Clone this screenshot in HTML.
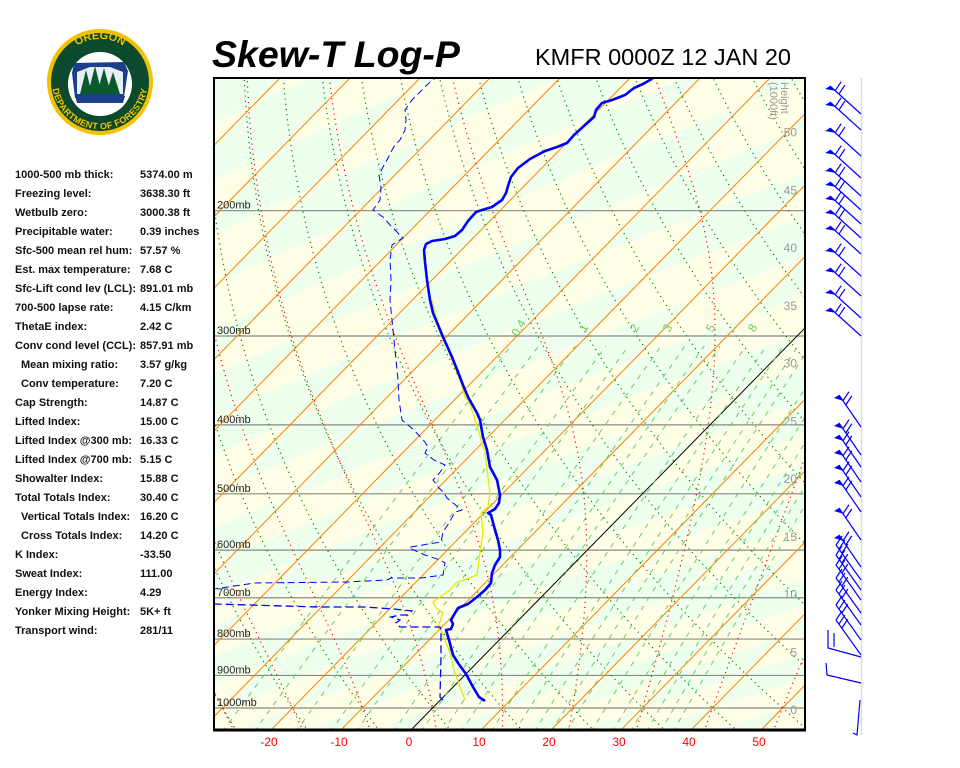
<!DOCTYPE html>
<html><head><meta charset="utf-8">
<style>
body{margin:0;background:#fff;width:960px;height:768px;overflow:hidden;position:relative;font-family:"Liberation Sans",sans-serif}
#cv{position:absolute;left:214px;top:78px}
#sv{position:absolute;left:0;top:0}
.st{position:absolute;left:15px;font-size:11px;font-weight:bold;color:#111;white-space:nowrap}
.st span{position:absolute;left:125px}
.in{left:21px}.in span{left:119px}
</style></head><body>
<canvas id="cv" width="591" height="652"></canvas>
<svg id="sv" width="960" height="768" xmlns="http://www.w3.org/2000/svg">
<defs><clipPath id="cp"><rect x="214" y="78" width="591" height="652"/></clipPath>
<path id="arcT" d="M57,82 A43,43 0 0,1 143,82"/>
<path id="arcB" d="M58,58 A48,48 0 1,0 142,58"/></defs>
<g id="plot" clip-path="url(#cp)"></g>
<g id="over"></g>
<!-- logo -->
<circle cx="100" cy="82" r="53" fill="#f2c200"/>
<circle cx="100" cy="82" r="49" fill="#0b4a2c"/>
<circle cx="100" cy="84" r="32" fill="#fff"/>
<path d="M74,63 L124,62 L128,71 L124,97 L75,98 L72,73 Z" fill="#1c3f8c"/>
<path d="M77,72 L90,67 L110,67 L123,72 L123,94 L77,94Z" fill="#e8eef8"/>
<g fill="#0b5a2a"><path d="M80,94 L86,70 L92,94Z"/><path d="M88,94 L95,66 L102,94Z"/><path d="M97,94 L104,68 L111,94Z"/><path d="M106,94 L113,72 L120,94Z"/></g>
<path d="M75,96 Q100,91 125,96 L123,103 L77,103Z" fill="#1c3f8c"/>
<text font-size="11" font-weight="bold" fill="#f2c200" font-family="Liberation Sans,sans-serif"><textPath href="#arcT" startOffset="50%" text-anchor="middle">OREGON</textPath></text>
<text font-size="9" font-weight="bold" fill="#f2c200" font-family="Liberation Sans,sans-serif" letter-spacing="0.3"><textPath href="#arcB" startOffset="50%" text-anchor="middle">DEPARTMENT OF FORESTRY</textPath></text>
<text x="212" y="67" font-size="37.5" font-weight="bold" font-style="italic" fill="#000">Skew-T Log-P</text>
<text x="535" y="65" font-size="23.5" fill="#000">KMFR 0000Z 12 JAN 20</text>
</svg>
<div class="st" style="top:169px">1000-500 mb thick:<span>5374.00 m</span></div>
<div class="st" style="top:188px">Freezing level:<span>3638.30 ft</span></div>
<div class="st" style="top:207px">Wetbulb zero:<span>3000.38 ft</span></div>
<div class="st" style="top:226px">Precipitable water:<span>0.39 inches</span></div>
<div class="st" style="top:245px">Sfc-500 mean rel hum:<span>57.57 %</span></div>
<div class="st" style="top:264px">Est. max temperature:<span>7.68 C</span></div>
<div class="st" style="top:283px">Sfc-Lift cond lev (LCL):<span>891.01 mb</span></div>
<div class="st" style="top:302px">700-500 lapse rate:<span>4.15 C/km</span></div>
<div class="st" style="top:321px">ThetaE index:<span>2.42 C</span></div>
<div class="st" style="top:340px">Conv cond level (CCL):<span>857.91 mb</span></div>
<div class="st in" style="top:359px">Mean mixing ratio:<span>3.57 g/kg</span></div>
<div class="st in" style="top:378px">Conv temperature:<span>7.20 C</span></div>
<div class="st" style="top:397px">Cap Strength:<span>14.87 C</span></div>
<div class="st" style="top:416px">Lifted Index:<span>15.00 C</span></div>
<div class="st" style="top:435px">Lifted Index @300 mb:<span>16.33 C</span></div>
<div class="st" style="top:454px">Lifted Index @700 mb:<span>5.15 C</span></div>
<div class="st" style="top:473px">Showalter Index:<span>15.88 C</span></div>
<div class="st" style="top:492px">Total Totals Index:<span>30.40 C</span></div>
<div class="st in" style="top:511px">Vertical Totals Index:<span>16.20 C</span></div>
<div class="st in" style="top:530px">Cross Totals Index:<span>14.20 C</span></div>
<div class="st" style="top:549px">K Index:<span>-33.50</span></div>
<div class="st" style="top:568px">Sweat Index:<span>111.00</span></div>
<div class="st" style="top:587px">Energy Index:<span>4.29</span></div>
<div class="st" style="top:606px">Yonker Mixing Height:<span>5K+ ft</span></div>
<div class="st" style="top:625px">Transport wind:<span>281/11</span></div>
<script>
var X0=411,K=7,SK=0.98,Y1000=708,LK=309;
function yP(p){return Y1000-LK*Math.log(1000/p);}
function pY(y){return 1000*Math.exp((Y1000-y)/LK);}
function xT(T,y){return X0+K*T+(730-y)*SK;}
var c=document.getElementById('cv').getContext('2d');
var im=c.createImageData(591,652);
for(var j=0;j<652;j++){var y=78+j,p=pY(y),f=Math.pow(1000/p,0.286);
 for(var i=0;i<591;i++){var x=214+i;var T=(x-X0-(730-y)*SK)/K;var th=(T+273.15)*f-273.15;
  var par=(Math.floor(T/10)+Math.floor(th/10))&1;var k=(j*591+i)*4;
  if(par){im.data[k]=238;im.data[k+1]=255;im.data[k+2]=238;}else{im.data[k]=255;im.data[k+1]=255;im.data[k+2]=232;}
  im.data[k+3]=255;}}
c.putImageData(im,0,0);
var NS='http://www.w3.org/2000/svg';
function el(g,t,a,txt){var e=document.createElementNS(NS,t);for(var k in a)e.setAttribute(k,a[k]);if(txt!=null)e.textContent=txt;document.getElementById(g).appendChild(e);return e;}
function pl(g,pts,st){el(g,'polyline',Object.assign({points:pts.map(function(q){return q[0].toFixed(1)+','+q[1].toFixed(1)}).join(' '),fill:'none'},st));}
[1000,900,800,700,600,500,400,300,200].forEach(function(p){var y=yP(p);el('plot','line',{x1:214,x2:805,y1:y,y2:y,stroke:'#888','stroke-width':1.2});});
for(var th=-40;th<=200;th+=10){var pts=[];for(var p=1080;p>=125;p-=10){var T=(th+273.15)*Math.pow(p/1000,0.286)-273.15;var y=yP(p);pts.push([xT(T,y),y]);}pl('plot',pts,{stroke:'#008000','stroke-width':1.2,'stroke-dasharray':'1.2 4'});}
for(var T=-120;T<=60;T+=10){var y1=730,y2=78;el('plot','line',{x1:xT(T,y1),y1:y1,x2:xT(T,y2),y2:y2,stroke:T==0?'#000':'#ff8000','stroke-width':1});}
function es(Tc){return 6.112*Math.exp(17.67*Tc/(Tc+243.5));}
[0.4,0.6,1,1.5,2,3,4,5,6,8,10,12,14,16,20,24,28,32,36,40].forEach(function(w){var pts=[];for(var p=1080;p>=310;p-=10){var e=w*p/(622+w);var L=Math.log(e/6.112);var T=243.5*L/(17.67-L);var y=yP(p);pts.push([xT(T,y),y]);}pl('plot',pts,{stroke:'#66cc66','stroke-width':1,'stroke-dasharray':'5 6'});});
[['0.4',522],['1',587],['2',638],['3',671],['5',714],['8',756]].forEach(function(a){el('plot','text',{x:a[1],y:330,'font-size':12,fill:'#66cc66',transform:'rotate(-60 '+a[1]+' 330)','text-anchor':'middle'},a[0]);});
function dTdp(T,p){var Tc=T-273.15;var e=es(Tc);var rs=0.622*e/(p-e);var Rd=287,Lv=2.5e6,cp=1005;return (1/p)*(Rd*T+Lv*rs)/(cp+Lv*Lv*rs*0.622/(Rd*T*T));}
for(var T0=-40;T0<=50;T0+=10){var up=[],T=T0+273.15;for(var p=1000;p>=125;p-=2){var y=yP(p);up.push([xT(T-273.15,y),y]);T-=dTdp(T,p)*2;}
 var dn=[];T=T0+273.15;for(var p=1000;p<=1080;p+=2){var y=yP(p);dn.unshift([xT(T-273.15,y),y]);T+=dTdp(T,p)*2;}
 pl('plot',dn.concat(up),{stroke:'#ff0000','stroke-width':1.2,'stroke-dasharray':'1.2 4'});}
[[1000,'1000mb'],[900,'900mb'],[800,'800mb'],[700,'700mb'],[600,'600mb'],[500,'500mb'],[400,'400mb'],[300,'300mb'],[200,'200mb']].forEach(function(a){el('over','text',{x:217,y:yP(a[0])-2,'font-size':11,fill:'#222'},a[1]);});
for(var h=0;h<=50;h+=5){el('over','text',{x:797,y:714-h*11.55,'font-size':12,fill:'#999','text-anchor':'end'},h);}
el('over','text',{x:781,y:82,'font-size':11,fill:'#999',transform:'rotate(90 781 82)'},'Height');
el('over','text',{x:770,y:82,'font-size':11,fill:'#999',transform:'rotate(90 770 82)'},'(1000ft)');
for(var T=-20;T<=50;T+=10){el('over','text',{x:X0+K*T-2,y:746,'font-size':12,fill:'#ff0000','text-anchor':'middle'},T);}
var yel=[[465,700],[460,687],[455,673],[449,650],[441,630],[438,627],[443,613],[436,608],[433,602],[450,590],[456,583],[477,575],[479,560],[481,545],[483,533],[481,513],[488,507],[490,493],[485,453],[479,433],[473,413],[468,400],[465,397],[460,380],[452,360],[442,333],[435,313],[432,300]];
pl('plot',yel,{stroke:'#e8e800','stroke-width':1.3});
var dew=[[443,700],[440,697],[441,657],[441,630],[440,627],[400,627],[396,623],[400,620],[391,617],[400,615],[408,615],[412,611],[394,609],[364,607],[319,607],[214,604],[200,604]];
pl('plot',dew,{stroke:'#0000ff','stroke-width':1.3,'stroke-dasharray':'8 4'});
var dew2=[[200,589],[214,589],[255,583],[346,582],[387,580],[391,578],[421,578],[443,575],[445,563],[440,560],[425,555],[409,548],[411,547],[428,544],[441,542],[443,532],[449,523],[455,512],[462,510],[458,507],[447,498],[444,493],[439,488],[433,480],[438,475],[443,468],[445,465],[434,460],[425,453],[428,447],[425,442],[414,430],[402,420],[399,400],[398,380],[395,350],[392,320],[390,300],[391,280],[390,260],[392,245],[403,238],[397,232],[390,225],[383,217],[373,210],[380,200],[381,187],[379,175],[383,167],[387,160],[392,150],[395,145],[400,140],[405,130],[406,120],[405,110],[412,100],[422,90],[432,80],[440,76]];
pl('plot',dew2,{stroke:'#0000ff','stroke-width':1,'stroke-dasharray':'7 4'});
var tmp=[[485,701],[479,697],[473,687],[466,674],[458,663],[453,655],[449,640],[446,630],[451,629],[453,624],[451,620],[455,613],[458,608],[468,604],[477,597],[485,590],[491,583],[492,573],[495,565],[500,557],[500,550],[498,540],[495,530],[491,515],[488,513],[495,509],[499,503],[500,495],[497,480],[490,467],[487,450],[483,437],[480,420],[477,413],[468,397],[463,385],[458,372],[452,357],[443,337],[438,325],[433,313],[430,300],[427,280],[425,262],[424,250],[426,244],[432,241],[445,239],[455,236],[462,230],[468,221],[476,212],[482,210],[492,207],[502,200],[506,193],[508,186],[511,177],[518,168],[530,159],[545,151],[557,147],[567,143],[574,135],[585,125],[594,117],[596,110],[602,103],[612,100],[625,95],[634,88],[643,84],[650,80],[656,76]];
pl('plot',tmp,{stroke:'#0000ff','stroke-width':2.6,'stroke-linejoin':'round'});
el('over','rect',{x:214,y:78,width:591,height:652,fill:'none',stroke:'#000','stroke-width':2});
el('over','line',{x1:213,x2:806,y1:730,y2:730,stroke:'#000','stroke-width':3});
el('over','line',{x1:861.5,x2:861.5,y1:78,y2:735,stroke:'#ddd','stroke-width':1.5});
function barb(y,flag,n,dx,dy){var x2=861+dx,y2=y+dy;el('over','line',{x1:861,y1:y,x2:x2,y2:y2,stroke:'#00f','stroke-width':1.2});
 var ux=dx/Math.hypot(dx,dy),uy=dy/Math.hypot(dx,dy);var s=0;
 if(flag){el('over','polygon',{points:x2+','+y2+' '+(x2-ux*7)+','+(y2-uy*7)+' '+(x2-5)+','+(y2+3),fill:'#00f'});s=7;}
 for(var i=0;i<n;i++){var bx=x2-ux*(s+i*5),by=y2-uy*(s+i*5);el('over','line',{x1:bx,y1:by,x2:bx+6,y2:by-9,stroke:'#00f','stroke-width':1.2});}}
[86,102,128,150,168,182,196,210,226,248,268,290,308].forEach(function(y,i){barb(y+28,true,2,-31,-28);});
[395,423,435,450,465,480,508,535].forEach(function(y){barb(y+32,true,2,-22,-32);});
[545,555,565,578,590,605,620].forEach(function(y){barb(y+35,false,3,-25,-35);});
el('over','polyline',{points:'828,630 828,648 861,657',fill:'none',stroke:'#00f','stroke-width':1.2});
el('over','polyline',{points:'834,633 834,647',fill:'none',stroke:'#00f','stroke-width':1.2});
el('over','polyline',{points:'826,663 827,675 861,683',fill:'none',stroke:'#00f','stroke-width':1.2});
el('over','polyline',{points:'860,700 857,735 853,733',fill:'none',stroke:'#00f','stroke-width':1.2});
</script>
</body></html>
